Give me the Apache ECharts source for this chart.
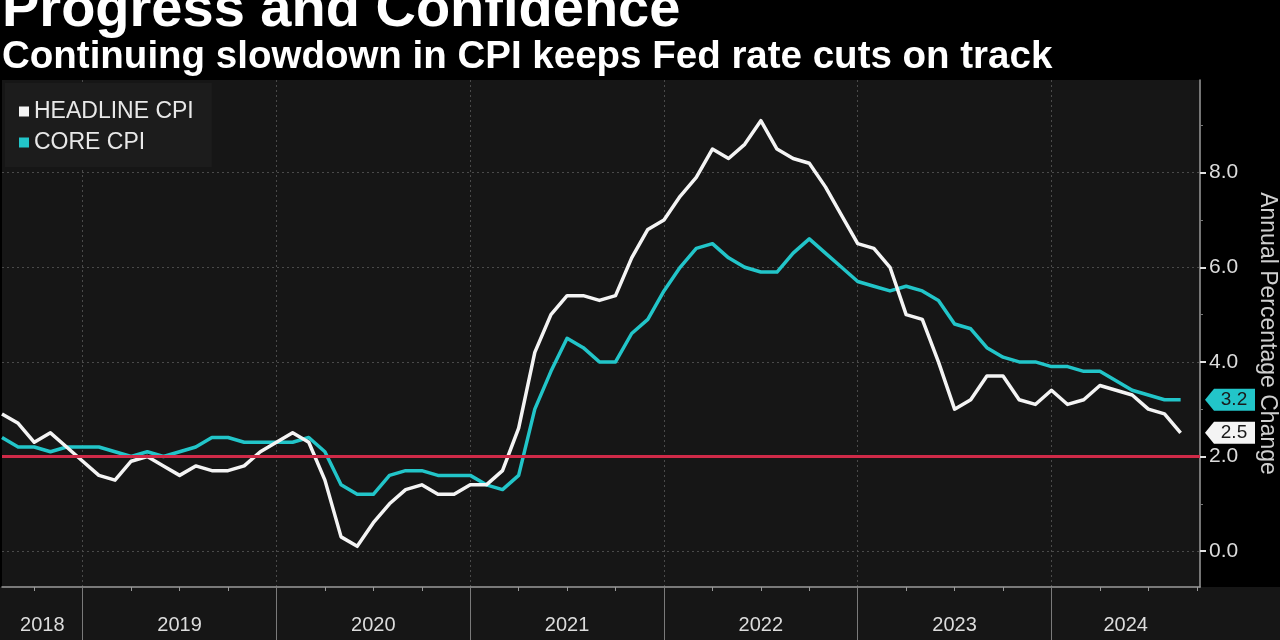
<!DOCTYPE html>
<html><head><meta charset="utf-8">
<script src="https://cdn.jsdelivr.net/npm/echarts@6/dist/echarts.min.js"></script>
<style>html,body{margin:0;padding:0;background:#000;}#c{width:1280px;height:640px;}</style>
</head><body><div id="c"></div>
<script>
// ---- data ----
const months = ('2018-07 2018-08 2018-09 2018-10 2018-11 2018-12 ' +
  '2019-01 2019-02 2019-03 2019-04 2019-05 2019-06 2019-07 2019-08 2019-09 2019-10 2019-11 2019-12 ' +
  '2020-01 2020-02 2020-03 2020-04 2020-05 2020-06 2020-07 2020-08 2020-09 2020-10 2020-11 2020-12 ' +
  '2021-01 2021-02 2021-03 2021-04 2021-05 2021-06 2021-07 2021-08 2021-09 2021-10 2021-11 2021-12 ' +
  '2022-01 2022-02 2022-03 2022-04 2022-05 2022-06 2022-07 2022-08 2022-09 2022-10 2022-11 2022-12 ' +
  '2023-01 2023-02 2023-03 2023-04 2023-05 2023-06 2023-07 2023-08 2023-09 2023-10 2023-11 2023-12 ' +
  '2024-01 2024-02 2024-03 2024-04 2024-05 2024-06 2024-07 2024-08').split(' ');
const headline = [2.9,2.7,2.3,2.5,2.2,1.9,
  1.6,1.5,1.9,2.0,1.8,1.6,1.8,1.7,1.7,1.8,2.1,2.3,
  2.5,2.3,1.5,0.3,0.1,0.6,1.0,1.3,1.4,1.2,1.2,1.4,
  1.4,1.7,2.6,4.2,5.0,5.4,5.4,5.3,5.4,6.2,6.8,7.0,
  7.5,7.9,8.5,8.3,8.6,9.1,8.5,8.3,8.2,7.7,7.1,6.5,
  6.4,6.0,5.0,4.9,4.0,3.0,3.2,3.7,3.7,3.2,3.1,3.4,
  3.1,3.2,3.5,3.4,3.3,3.0,2.9,2.5];
const core = [2.4,2.2,2.2,2.1,2.2,2.2,
  2.2,2.1,2.0,2.1,2.0,2.1,2.2,2.4,2.4,2.3,2.3,2.3,
  2.3,2.4,2.1,1.4,1.2,1.2,1.6,1.7,1.7,1.6,1.6,1.6,
  1.4,1.3,1.6,3.0,3.8,4.5,4.3,4.0,4.0,4.6,4.9,5.5,
  6.0,6.4,6.5,6.2,6.0,5.9,5.9,6.3,6.6,6.3,6.0,5.7,
  5.6,5.5,5.6,5.5,5.3,4.8,4.7,4.3,4.1,4.0,4.0,3.9,
  3.9,3.8,3.8,3.6,3.4,3.3,3.2,3.2];
const yearLabels = ['2018','2019','2020','2021','2022','2023','2024'];
const yTicks = [0,2,4,6,8];
const yMinorTicks = [1,3,5,7,9];
const seriesNames = ['HEADLINE CPI','CORE CPI'];
const targetRate = 2.0;

// ---- derived ----
const X_MIN = 0, X_MAX = 74.2, Y_MIN = -0.76, Y_MAX = 9.96;
const startMonth = parseInt(months[0].slice(5), 10);
const monthOf = i => ((startMonth - 1 + i) % 12) + 1;
const quarterTicks = [], yearEnds = [];
for (let i = 0; i <= Math.floor(X_MAX); i++) {
  if (monthOf(i) % 3 === 0) quarterTicks.push(i);
  if (monthOf(i) === 12) yearEnds.push(i);
}
const bounds = [X_MIN, ...yearEnds, X_MAX];
const yearMids = [];
for (let k = 0; k < bounds.length - 1; k++) yearMids.push((bounds[k] + bounds[k+1]) / 2);
const yearLabelFor = v => {
  let best = 0;
  yearMids.forEach((m, k) => { if (Math.abs(m - v) < Math.abs(yearMids[best] - v)) best = k; });
  return yearLabels[best];
};
const toXY = arr => arr.map((v, i) => [i, v]);
const lastH = headline[headline.length - 1];
const lastC = core[core.length - 1];
const FONT = "'Liberation Sans', Arial, sans-serif";
const tagPath = 'path://M0,11 L9,0 L50,0 L50,22 L9,22 Z';

const chart = echarts.init(document.getElementById('c'), null, {renderer: 'canvas'});
chart.setOption({
  backgroundColor: '#000',
  animation: false,
  textStyle: {fontFamily: FONT},
  title: [
    {text: 'Progress and Confidence', left: 2, top: -17, padding: 0,
     textStyle: {color: '#fff', fontSize: 56, fontWeight: 'bold', fontFamily: FONT}},
    {text: 'Continuing slowdown in CPI keeps Fed rate cuts on track', left: 2, top: 38, padding: 0,
     textStyle: {color: '#fff', fontSize: 38.5, fontWeight: 'bold', fontFamily: FONT}}
  ],
  graphic: [{type: 'rect', left: 0, bottom: 0, z: -10, shape: {width: 1280, height: 53}, style: {fill: '#161616'}}],
  legend: {
    data: seriesNames, orient: 'vertical', left: 5, top: 83,
    backgroundColor: '#1c1c1c', padding: [17, 18, 13, 14],
    icon: 'rect', itemWidth: 10, itemHeight: 10, itemGap: 8,
    textStyle: {color: '#e8e8e8', fontSize: 23, lineHeight: 23, fontFamily: FONT},
    selectedMode: false
  },
  grid: {left: 2, right: 80, top: 80, bottom: 53, show: true, backgroundColor: '#161616', borderWidth: 0,
         containLabel: false, outerBoundsMode: 'none'},
  xAxis: [
    {type: 'value', min: X_MIN, max: X_MAX, position: 'bottom',
     axisLine: {show: true, onZero: false, lineStyle: {color: '#9a9a9a', width: 1.5}},
     axisTick: {show: true, customValues: quarterTicks, length: 4, lineStyle: {color: '#9a9a9a'}},
     axisLabel: {show: false}, splitLine: {show: false}},
    {type: 'value', min: X_MIN, max: X_MAX, position: 'bottom',
     axisLine: {show: false, onZero: false},
     axisTick: {show: true, customValues: yearEnds, length: 53, lineStyle: {color: '#7a7a7a'}},
     axisLabel: {show: true, customValues: yearMids, formatter: yearLabelFor, color: '#dcdcdc', fontSize: 20, margin: 28, fontFamily: FONT},
     splitLine: {show: true, lineStyle: {color: '#4a4a4a', type: [2, 3]}}}
  ],
  yAxis: [
    {type: 'value', position: 'right', min: Y_MIN, max: Y_MAX,
     axisLine: {show: true, onZero: false, lineStyle: {color: '#9a9a9a', width: 1.5}},
     axisTick: {show: true, customValues: yTicks, length: 6, lineStyle: {color: '#e0e0e0', width: 2}},
     axisLabel: {show: true, customValues: yTicks, formatter: v => v.toFixed(1), color: '#dcdcdc', fontSize: 21, margin: 9, fontFamily: FONT},
     splitLine: {show: true, lineStyle: {color: '#4a4a4a', type: [2, 3]}},
     name: 'Annual Percentage Change', nameLocation: 'middle', nameRotate: -90, nameGap: 56,
     nameTextStyle: {color: '#cfcfcf', fontSize: 23, fontFamily: FONT}},
    {type: 'value', position: 'right', min: Y_MIN, max: Y_MAX,
     axisLine: {show: false, onZero: false},
     axisTick: {show: true, customValues: yMinorTicks, length: 3, lineStyle: {color: '#777'}},
     axisLabel: {show: false}, splitLine: {show: false}}
  ],
  series: [
    {name: seriesNames[0], type: 'line', xAxisIndex: 0, yAxisIndex: 0, data: toXY(headline),
     symbol: 'none', z: 4,
     lineStyle: {color: '#f4f4f4', width: 3.5, join: 'round'}, itemStyle: {color: '#f4f4f4'},
     markPoint: {silent: true, symbol: tagPath, symbolSize: [50, 22], symbolOffset: [30, 0],
       itemStyle: {color: '#f4f4f4'},
       label: {show: true, formatter: () => lastH.toFixed(1), color: '#1a1a1a', fontSize: 19, offset: [4, 0], fontFamily: FONT},
       data: [{coord: [X_MAX, lastH]}]}},
    {name: seriesNames[1], type: 'line', xAxisIndex: 0, yAxisIndex: 0, data: toXY(core),
     symbol: 'none', z: 3,
     lineStyle: {color: '#22c5c9', width: 3.5, join: 'round'}, itemStyle: {color: '#22c5c9'},
     markPoint: {silent: true, symbol: tagPath, symbolSize: [50, 22], symbolOffset: [30, 0],
       itemStyle: {color: '#22c5c9'},
       label: {show: true, formatter: () => lastC.toFixed(1), color: '#1a1a1a', fontSize: 19, offset: [4, 0], fontFamily: FONT},
       data: [{coord: [X_MAX, lastC]}]},
     markLine: {silent: true, symbol: 'none', label: {show: false},
       lineStyle: {color: '#cf2a48', width: 3, type: 'solid'},
       data: [{yAxis: targetRate}]}}
  ]
});
</script></body></html>
